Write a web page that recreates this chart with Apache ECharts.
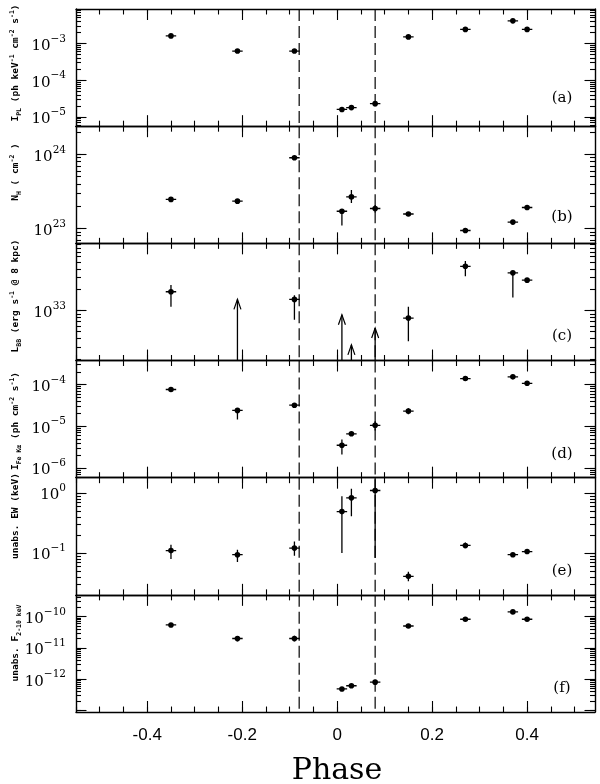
<!DOCTYPE html>
<html><head><meta charset="utf-8">
<script src="https://cdn.jsdelivr.net/npm/echarts@6/dist/echarts.min.js"></script>
<style>html,body{margin:0;padding:0;background:#fff}#c{width:600px;height:784px}</style>
</head><body><div id="c"></div>
<script>
// ---------------- data ----------------
const phase    = [-0.35, -0.21, -0.09, 0.01, 0.03, 0.08, 0.15, 0.27, 0.37, 0.40];
const phaseErr = [0.011, 0.011, 0.011, 0.011, 0.011, 0.011, 0.011, 0.011, 0.011, 0.011];
const dashPhase = [-0.08, 0.08];

// (a) power-law normalisation
const iPL   = [1.6e-3, 6.2e-4, 6.2e-4, 1.6e-5, 1.8e-5, 2.3e-5, 1.5e-3, 2.4e-3, 4.1e-3, 2.4e-3];
const iPLLo = [1.53e-3, 5.9e-4, 5.9e-4, 1.37e-5, 1.55e-5, 1.95e-5, 1.43e-3, 2.3e-3, 3.95e-3, 2.3e-3];
const iPLHi = [1.67e-3, 6.5e-4, 6.5e-4, 1.87e-5, 2.1e-5, 2.7e-5, 1.57e-3, 2.5e-3, 4.25e-3, 2.5e-3];

// (b) column density
const nH   = [2.47e23, 2.34e23, 9.0e23, 1.71e23, 2.67e23, 1.86e23, 1.57e23, 9.4e22, 1.22e23, 1.92e23];
const nHLo = [2.38e23, 2.25e23, 8.6e23, 1.1e23, 2.2e23, 1.65e23, 1.51e23, 9.0e22, 1.17e23, 1.85e23];
const nHHi = [2.56e23, 2.43e23, 9.4e23, 1.78e23, 3.3e23, 2.08e23, 1.63e23, 9.8e22, 1.27e23, 1.99e23];

// (c) blackbody luminosity (null = only a lower limit)
const lBB      = [1.87e33, null, 1.45e33, null, null, null, 7.8e32, 4.35e33, 3.5e33, 2.75e33];
const lBBLo    = [1.14e33, null, 7.4e32, null, null, null, 3.6e32, 3.13e33, 1.55e33, 2.6e33];
const lBBHi    = [2.33e33, null, 1.67e33, null, null, null, 1.14e33, 5.2e33, 3.7e33, 2.9e33];
const lBBLimit = [null, 1.45e33, null, 8.7e32, 3.2e32, 5.6e32, null, null, null, null];

// (d) Fe K-alpha line intensity
const iFe   = [7.6e-5, 2.4e-5, 3.2e-5, 3.5e-6, 6.6e-6, 1.05e-5, 2.3e-5, 1.39e-4, 1.53e-4, 1.07e-4];
const iFeLo = [7.1e-5, 1.45e-5, 2.95e-5, 2.1e-6, 6.1e-6, 7.9e-6, 1.95e-5, 1.31e-4, 1.45e-4, 1.01e-4];
const iFeHi = [8.1e-5, 2.75e-5, 3.5e-5, 4.8e-6, 7.1e-6, 1.32e-5, 2.7e-5, 1.47e-4, 1.61e-4, 1.13e-4];

// (e) unabsorbed equivalent width
const ew   = [0.110, 0.094, 0.121, 0.49, 0.83, 1.1, 0.041, 0.134, 0.094, 0.106];
const ewLo = [0.080, 0.071, 0.090, 0.10, 0.41, 0.083, 0.034, 0.120, 0.090, 0.101];
const ewHi = [0.137, 0.114, 0.156, 0.88, 1.18, 1.7, 0.049, 0.150, 0.098, 0.111];

// (f) unabsorbed 2-10 keV flux
const f210   = [5.4e-11, 2.0e-11, 2.0e-11, 4.9e-13, 6.2e-13, 8.1e-13, 5.0e-11, 8.2e-11, 1.41e-10, 8.2e-11];
const f210Lo = [5.0e-11, 1.6e-11, 1.6e-11, 4.6e-13, 5.9e-13, 7.5e-13, 4.6e-11, 7.7e-11, 1.33e-10, 7.7e-11];
const f210Hi = [5.8e-11, 2.4e-11, 2.45e-11, 5.3e-13, 6.6e-13, 8.8e-13, 5.4e-11, 8.7e-11, 1.5e-10, 8.7e-11];

// axis ranges and tick labels
const xRange = [-0.55, 0.543];
const xMajorTicks = [-0.4, -0.2, 0, 0.2, 0.4];
const xTickLabels = ['-0.4', '-0.2', '0', '0.2', '0.4'];
const yMins = [Math.pow(10,-5.25), Math.pow(10,22.80), Math.pow(10,32.28), Math.pow(10,-6.233), Math.pow(10,-1.695), Math.pow(10,-13.045)];
const yMaxs = [Math.pow(10,-2.065), Math.pow(10,24.38), Math.pow(10,33.97), Math.pow(10,-3.424), Math.pow(10,0.255), Math.pow(10,-9.307)];
const yLabelExps = [[-5,-4,-3], [23,24], [33], [-6,-5,-4], [-1,0], [-12,-11,-10]];
const panelTags = ['(a)', '(b)', '(c)', '(d)', '(e)', '(f)'];
const panelTitles = [
  '{n|I}{sub|PL}{n| (ph keV}{sup|-1}{n| cm}{sup|-2}{n| s}{sup|-1}{n|)}',
  '{n|N}{sub|H}{n| ( cm}{sup|-2}{n| )}',
  '{n|L}{sub|BB}{n| (erg s}{sup|-1}{n| @ 8 kpc)}',
  '{n|I}{sub|Fe Kα}{n| (ph cm}{sup|-2}{n| s}{sup|-1}{n|)}',
  '{n|unabs. EW (keV)}',
  '{n|unabs. F}{sub|2-10 keV}'
];
const xTitle = 'Phase';

const panels = [
  {v: iPL, lo: iPLLo, hi: iPLHi},
  {v: nH, lo: nHLo, hi: nHHi},
  {v: lBB, lo: lBBLo, hi: lBBHi, lim: lBBLimit},
  {v: iFe, lo: iFeLo, hi: iFeHi},
  {v: ew, lo: ewLo, hi: ewHi},
  {v: f210, lo: f210Lo, hi: f210Hi}
];

// ---------------- layout ----------------
const G_LEFT = 76, G_WIDTH = 519, G_TOP = 9, G_H = 117.17;
const titleX = 16;
const titleY = [63, 172, 296, 421, 516, 643];
const tagY = [98, 217, 336, 454, 571, 688];

function xMinorTicks() {
  const out = [];
  for (let k = -11; k <= 10; k++) out.push(+(k * 0.05).toFixed(2));
  return out;
}
function logTicks(min, max, majorOnly) {
  const out = [];
  for (let n = Math.floor(Math.log10(min)); n <= Math.ceil(Math.log10(max)); n++) {
    for (let k = 1; k <= 9; k++) {
      if (majorOnly && k > 1) continue;
      const v = k * Math.pow(10, n);
      if (v >= min && v <= max) out.push(v);
    }
  }
  return out;
}

const axisLineStyle = {color: '#000', width: 1.4};
const tickStyle = {color: '#000', width: 1.1};

const grids = [], xAxes = [], yAxes = [], series = [], graphics = [];
panels.forEach((p, i) => {
  grids.push({left: G_LEFT, width: G_WIDTH, top: G_TOP + i * G_H, height: G_H});
  ['bottom', 'top'].forEach(pos => {
    xAxes.push({
      gridIndex: i, type: 'value', position: pos, min: xRange[0], max: xRange[1],
      axisLine: {show: true, onZero: false, lineStyle: axisLineStyle},
      axisTick: {show: true, inside: true, length: 11, customValues: xMajorTicks, lineStyle: tickStyle},
      axisLabel: {show: (i === 5 && pos === 'bottom'), customValues: xMajorTicks, margin: 15,
        fontFamily: 'Liberation Sans', fontSize: 17, color: '#000',
        formatter: v => xTickLabels[xMajorTicks.findIndex(t => Math.abs(t - v) < 1e-6)] || ''},
      splitLine: {show: false}
    });
    xAxes.push({
      gridIndex: i, type: 'value', position: pos, min: xRange[0], max: xRange[1],
      axisLine: {show: false, onZero: false},
      axisTick: {show: true, inside: true, length: 5.5, customValues: xMinorTicks(), lineStyle: tickStyle},
      axisLabel: {show: false}, splitLine: {show: false}
    });
  });
  const yMin = yMins[i], yMax = yMaxs[i];
  const labelVals = yLabelExps[i].map(e => Math.pow(10, e));
  ['left', 'right'].forEach(pos => {
    yAxes.push({
      gridIndex: i, type: 'log', logBase: 10, position: pos, min: yMin, max: yMax,
      axisLine: {show: true, onZero: false, lineStyle: axisLineStyle},
      axisTick: {show: true, inside: true, length: 10.5, customValues: logTicks(yMin, yMax, true), lineStyle: tickStyle},
      axisLabel: {show: pos === 'left', customValues: labelVals, margin: 10,
        formatter: v => '{b|10}{s|' + String(Math.round(Math.log10(v))).replace('-', '−') + '}',
        rich: {
          b: {fontFamily: 'DejaVu Serif', fontSize: 15, color: '#000', lineHeight: 20, verticalAlign: 'bottom'},
          s: {fontFamily: 'DejaVu Serif', fontSize: 10.5, color: '#000', lineHeight: 20, verticalAlign: 'top'}
        }},
      splitLine: {show: false}
    });
    yAxes.push({
      gridIndex: i, type: 'log', logBase: 10, position: pos, min: yMin, max: yMax,
      axisLine: {show: false, onZero: false},
      axisTick: {show: true, inside: true, length: 5, customValues: logTicks(yMin, yMax, false), lineStyle: tickStyle},
      axisLabel: {show: false}, splitLine: {show: false}
    });
  });
  const xi = 4 * i, yi = 4 * i;

  // dashed reference lines
  series.push({
    type: 'custom', xAxisIndex: xi, yAxisIndex: yi, silent: true, clip: true,
    data: dashPhase.map(d => [d]),
    encode: {x: 0},
    renderItem: (params, api) => {
      const cs = params.coordSys;
      const x = api.coord([api.value(0), yMax])[0];
      return {type: 'line', shape: {x1: x, y1: cs.y, x2: x, y2: cs.y + cs.height},
        style: {stroke: '#000', lineWidth: 1.2, lineDash: [12, 5]}};
    }
  });

  // points with error bars
  const pts = [];
  phase.forEach((ph, k) => {
    if (p.v[k] != null) pts.push([ph, p.v[k], p.lo[k], p.hi[k], phaseErr[k]]);
  });
  series.push({
    type: 'custom', xAxisIndex: xi, yAxisIndex: yi, clip: true,
    data: pts, encode: {x: 0, y: 1},
    renderItem: (params, api) => {
      const x = api.value(0), y = api.value(1), lo = api.value(2), hi = api.value(3), xe = api.value(4);
      const c = api.coord([x, y]), l = api.coord([x - xe, y]), r = api.coord([x + xe, y]);
      const b = api.coord([x, lo]), t = api.coord([x, hi]);
      return {type: 'group', children: [
        {type: 'line', shape: {x1: l[0], y1: l[1], x2: r[0], y2: r[1]}, style: {stroke: '#000', lineWidth: 1.3}},
        {type: 'line', shape: {x1: b[0], y1: b[1], x2: t[0], y2: t[1]}, style: {stroke: '#000', lineWidth: 1.3}},
        {type: 'circle', shape: {cx: c[0], cy: c[1], r: 2.8}, style: {fill: '#000'}}
      ]};
    }
  });

  // lower-limit arrows
  if (p.lim) {
    const arr = [];
    phase.forEach((ph, k) => { if (p.lim[k] != null) arr.push([ph, p.lim[k]]); });
    series.push({
      type: 'custom', xAxisIndex: xi, yAxisIndex: yi, clip: true,
      data: arr, encode: {x: 0, y: 1},
      renderItem: (params, api) => {
        const cs = params.coordSys;
        const tip = api.coord([api.value(0), api.value(1)]);
        const base = cs.y + cs.height;
        return {type: 'group', children: [
          {type: 'line', shape: {x1: tip[0], y1: base, x2: tip[0], y2: tip[1]}, style: {stroke: '#000', lineWidth: 1.3}},
          {type: 'polyline', shape: {points: [[tip[0] - 3.5, tip[1] + 10], [tip[0], tip[1]], [tip[0] + 3.5, tip[1] + 10]]},
            style: {stroke: '#000', lineWidth: 1.2, fill: null}}
        ]};
      }
    });
  }

  graphics.push({
    type: 'text', x: titleX, y: titleY[i], rotation: Math.PI / 2,
    style: {text: panelTitles[i], align: 'center', verticalAlign: 'middle',
      rich: {
        n: {fontFamily: 'DejaVu Sans Mono', fontSize: 9.5, fontWeight: 'bold', fill: '#000', lineHeight: 14, verticalAlign: 'middle'},
        sub: {fontFamily: 'DejaVu Sans Mono', fontSize: 6.5, fontWeight: 'bold', fill: '#000', lineHeight: 14, verticalAlign: 'bottom'},
        sup: {fontFamily: 'DejaVu Sans Mono', fontSize: 6.5, fontWeight: 'bold', fill: '#000', lineHeight: 14, verticalAlign: 'top'}
      }}
  });
  graphics.push({
    type: 'text', x: 562, y: tagY[i],
    style: {text: panelTags[i], align: 'center', verticalAlign: 'middle',
      font: '15px "DejaVu Serif"', fill: '#000'}
  });
});
graphics.push({
  type: 'text', x: 337, y: 771,
  style: {text: xTitle, align: 'center', verticalAlign: 'middle', font: '30px "DejaVu Serif"', fill: '#000'}
});

const chart = echarts.init(document.getElementById('c'), null, {renderer: 'canvas'});
chart.setOption({
  animation: false,
  backgroundColor: '#fff',
  grid: grids, xAxis: xAxes, yAxis: yAxes, series: series, graphic: graphics
});
</script>
</body></html>
